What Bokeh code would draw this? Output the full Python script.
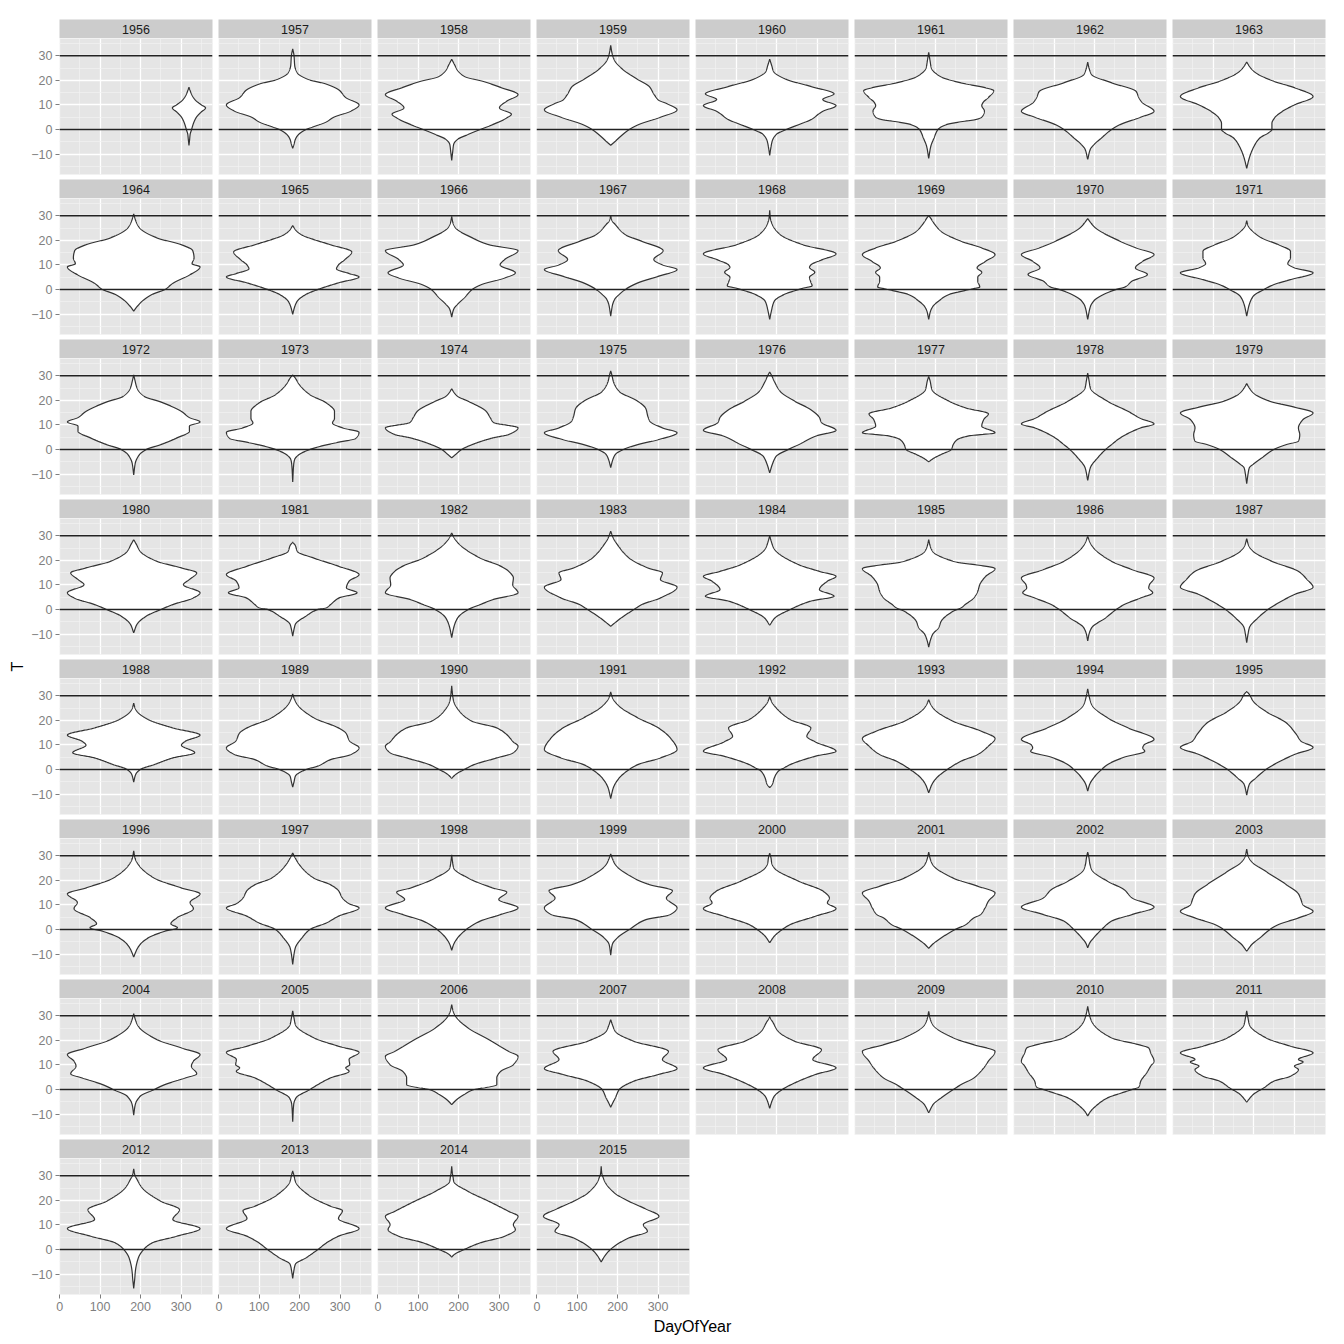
import numpy as np
from bokeh.plotting import figure
from bokeh.layouts import row, column
from bokeh.models import Range1d, FixedTicker, Span
from bokeh.core.properties import value
from bokeh.embed import file_html
from bokeh.resources import INLINE

# ---------------- data ----------------
YEARS = list(range(1956, 2016))
FIRST_DAY = [274] + [1] * 59
LAST_DAY = [365] * 59 + [318]
HLINES = [0, 30]
X_TICKS = [0, 100, 200, 300]
X_MINOR = [50, 150, 250, 350]
Y_TICKS = [-10, 0, 10, 20, 30]
Y_MINOR = [-15, -5, 5, 15, 25, 35]

# temperature knots (descending) and relative violin half-widths (1 = widest)
T_KNOTS = [
    [17.2,16,14,12,10,8.8,7,5,3,1,0,-2,-4,-6.5],
    [32.8,30,26,23,20.5,18.5,16,13,10,7.5,5,3,1,0,-2,-4,-6,-7.7],
    [28.6,26.5,24,21.5,19.5,17,14.2,11.5,8.8,6.2,4.7,2,0,-2,-4,-6,-9,-12.6],
    [34.2,31,28,24.5,20.5,17.5,14,12,10.5,8,5,2,0,-3,-5,-6.4],
    [28.6,26,23.5,20.5,17.5,14.5,12.2,9.7,7.4,4,2,0,-2,-4.5,-7,-10.5],
    [31.4,28,25,21.5,19,17,15.8,13,11,9.7,7.5,5,4,3,2,0,-3.5,-7,-11.8],
    [27.4,25,22.3,19,15.5,13,11,7.4,5,2,0,-3.4,-6,-8,-12.2],
    [27.4,25,23,19.6,17,13.4,10,7.4,4.7,2.5,0,-1.5,-3.4,-7.4,-11.5,-15.8],
    [30.7,28,25,21,18.2,15.8,12.8,10.5,9.2,6,2.7,0,-2,-4.7,-7,-8.8],
    [26,24,22,20.3,18.2,15.3,12,10,8.4,6.5,5.1,2.7,0,-2,-4.7,-7,-10.1],
    [29.7,27,25,21,18.2,15.8,12.2,10,6.8,4.7,2,0,-3.4,-6,-8,-11.2],
    [30,28,26.4,22.3,19.6,15.8,12.2,10,8.1,5.4,2.7,0,-2,-4,-6,-10.8],
    [32.2,29,26.4,22.3,18.2,14.5,12,10,9,7,5,3,1.5,0.5,0,-2,-4.7,-8.8,-12.2],
    [30.1,29,27.7,23.6,19.6,16.9,14.2,11.5,8.8,7,5,3.4,1,0.2,-1,-2,-4.7,-7,-9,-12.2],
    [28.8,27,25,19.6,16.9,14.2,11.5,8.8,6.1,3.4,1,0,-2,-4.7,-7,-12.2],
    [28,26,24.5,20.9,18.2,15.5,13,10.5,8.8,6.8,4,2,0,-2.7,-6,-10.8],
    [30.4,28,25,21.6,19.3,15.5,13,11.2,9.5,7.4,4.7,2,0,-2,-5.4,-10.4],
    [30.4,29,26.4,22.3,18.9,15.5,12.6,10.8,8.8,7,4.5,3,1.5,0,-2,-4,-6,-13.2],
    [24.7,23,21.6,19.6,15.5,13,11,8.8,6.1,4.7,2,0,-2,-3.4],
    [32,30,27.7,23.6,19.6,16.6,13.5,11.5,8.8,6.8,4,2,0,-2,-4.7,-7.4],
    [31.5,30,27.7,23.6,19.6,16.2,13,11,7.8,5.4,2,0,-2.7,-6,-9.5],
    [29.7,28,24.3,19.6,16.9,14.5,12.2,9.5,6.8,5.5,4,2,0,-2,-3.5,-5],
    [31.1,28,25,19.6,15.5,12.6,10.4,8.8,4.7,2,0,-3.4,-7.4,-12.6],
    [26.8,25,23,19.6,17.2,14.9,12.2,8.8,6,3.4,2,0,-3.4,-6,-7.4,-10,-13.9],
    [28.4,26.5,23.6,19.6,16.9,14.9,12.2,10.1,6.8,4.7,2,0,-2.7,-6,-9.5],
    [27.4,26,23.6,20.9,17.6,14.2,11.5,8.8,6.8,4.7,2,0.7,0,-2.7,-6,-8,-10.8],
    [31.1,29,26.4,20.9,17.6,15.5,12.8,10.1,6.8,4,2,0,-3.4,-7.4,-11.5],
    [31.8,29,26.4,20.9,16.9,14.9,12.2,9.1,4.7,2,0,-3.4,-6.8],
    [30,28,25,23.6,18.2,15.5,13.5,11.5,8.1,5.4,3.4,0,-3.4,-6.4],
    [28.4,26,23.6,19.6,16.6,13.5,10.1,7.4,4.7,2,0.7,-0.7,-4.7,-7.4,-10.1,-13,-15.3],
    [29.7,27,25,19.6,16.2,12.8,10,8.8,6.8,4.7,2,0,-3.4,-7.4,-10,-12.8],
    [28.8,26,23.6,19.6,15.5,12.2,9.1,6.1,2.7,0,-3.4,-7.4,-10,-13.5],
    [27,25,23.6,20.3,16.9,14,11.5,9.9,6.8,4.7,2,0,-2,-5.1],
    [30.7,29,26.4,21,16.9,14.9,11.5,8.8,6.1,4,1.4,0,-2.7,-5,-7.2],
    [34,31,29,27.7,23.6,19.6,16.9,14.2,11.2,9.5,6.8,4.7,2,0,-2,-3.6],
    [31.5,29,25.7,21,16.9,12.8,8.1,4.7,2,0,-3.4,-7.4,-11.8],
    [29.7,27.5,25,20.3,16.9,13.5,11.2,7.4,5.4,2,0.7,-0.7,-3.4,-6,-7.4],
    [28.4,26.5,24.3,19.6,15.5,12.6,9.5,6.1,3.4,0,-3.4,-6,-9.5],
    [32.8,30,26.4,21,16.9,12.2,10,8.8,7.4,5,2,0,-3.4,-6,-8.8],
    [31.8,30.5,27.7,23.6,18.9,14.2,11.5,9,6.1,2,0,-3.4,-6,-10.4],
    [32,29,26.4,20.9,16.9,14.5,11,8.5,4.7,2.3,0.7,-0.7,-3.4,-6,-8,-11.2],
    [31.1,29,26.4,20.9,18.2,15.8,12.8,10.5,8.8,5.4,2.7,0,-3.4,-7.4,-10,-14.2],
    [30.4,28,25,20.9,16.9,15.2,12.2,8.8,6.1,3.4,0,-3.4,-6,-8.5],
    [30.7,28.5,26.4,20.9,18.2,15.8,12.8,8.8,6.1,4,0,-3.4,-6,-10.4],
    [31.1,29,27,25,19.6,15.5,12.8,10.8,8.5,5.4,2,0,-2.7,-5.4],
    [31.5,29,26.4,20.9,17.6,14.9,11.5,8.8,6,4.7,2,0,-3.4,-6,-7.7],
    [31.5,29,27,24.3,19.6,16.2,12.8,9.1,6.1,3.4,0,-3.4,-5.5,-7.4],
    [32.7,30,27.7,23.6,18.2,14.5,12.8,10,7.4,4.7,2,0,-3.4,-6,-8.8],
    [30.8,28,25.7,20.3,16.9,14.2,11.5,9.5,6.4,4.7,2,0,-2.7,-6,-10.4],
    [32,29,26.4,21,17.6,15.1,12.2,10.1,8.8,7.4,4.7,2,0,-3.4,-6,-13.1],
    [34.5,32,29.7,25,20.3,15.5,13.5,10.1,7.4,4.7,2,0.7,0,-2,-4,-6.1],
    [28.4,26,23.6,19.6,15.5,12.2,8.5,6.1,3.4,0,-3.4,-5.5,-7.2],
    [29.7,28.5,27.7,23.6,19.6,16.2,12.2,8.8,6.1,2.7,0,-2.7,-5,-7.7],
    [31.8,29,26.4,21,18.2,15.5,11.5,8.8,4.7,2,0,-3.4,-6,-9.5],
    [33.8,31,27.7,21,18,16.9,14.9,11.5,9.5,6.8,3.4,1,0,-1.5,-3.4,-6.8,-9,-10.8],
    [32,29,26.4,21,17.6,14.9,12.2,11.2,9.5,8.1,5.4,3.4,0.7,-2,-5.1],
    [32.8,30,29,25,19.6,16.2,12.2,8.5,5.4,2.7,0,-3.4,-8.8,-12,-15.8],
    [32,30,27.7,22.3,17.6,15.8,12.6,8.5,5.4,2.7,0,-3.4,-6,-9,-11.8],
    [33.8,31,29.5,27.7,23.6,19.6,15.5,13.5,10.1,8.1,5.4,2.7,0,-2,-3.1],
    [33.8,31,29.5,27.7,23,19.6,16.6,13.5,10.1,7.4,4.7,2,0,-2.7,-5.1],
]
W_KNOTS = [
    [0,0.06,0.18,0.38,0.75,1.0,0.72,0.45,0.3,0.2,0.16,0.07,0.04,0],
    [0,0.02,0.03,0.07,0.22,0.5,0.7,0.8,1.0,0.88,0.62,0.5,0.3,0.2,0.09,0.04,0.02,0],
    [0,0.04,0.09,0.2,0.48,0.75,1.0,0.83,0.72,0.9,0.83,0.62,0.43,0.25,0.09,0.03,0.015,0],
    [0,0.02,0.06,0.18,0.4,0.58,0.66,0.72,0.85,1.0,0.75,0.42,0.28,0.14,0.06,0],
    [0,0.03,0.06,0.24,0.62,0.97,0.8,1.0,0.8,0.62,0.44,0.25,0.1,0.04,0.02,0],
    [0,0.02,0.04,0.18,0.48,0.85,0.98,0.9,0.82,0.8,0.84,0.8,0.7,0.45,0.27,0.14,0.08,0.03,0],
    [0,0.02,0.06,0.36,0.73,0.77,0.82,1.0,0.8,0.49,0.36,0.21,0.1,0.04,0],
    [0,0.06,0.14,0.41,0.72,1.0,0.72,0.54,0.42,0.38,0.38,0.32,0.2,0.1,0.04,0],
    [0,0.03,0.09,0.35,0.72,0.89,0.91,0.88,1.0,0.85,0.6,0.47,0.28,0.13,0.05,0],
    [0,0.05,0.15,0.32,0.57,0.89,0.78,0.69,0.66,0.85,1.0,0.69,0.38,0.2,0.07,0.03,0],
    [0,0.02,0.06,0.31,0.56,1.0,0.8,0.73,0.96,0.8,0.45,0.31,0.19,0.09,0.03,0],
    [0,0.02,0.07,0.22,0.47,0.79,0.65,0.78,1.0,0.72,0.41,0.22,0.13,0.06,0.03,0],
    [0,0.01,0.04,0.16,0.5,1.0,0.78,0.62,0.6,0.68,0.6,0.62,0.64,0.5,0.44,0.22,0.07,0.025,0],
    [0,0.03,0.06,0.19,0.49,0.8,1.0,0.86,0.73,0.8,0.74,0.74,0.77,0.65,0.45,0.31,0.15,0.06,0.025,0],
    [0,0.05,0.12,0.49,0.73,1.0,0.83,0.72,0.9,0.67,0.56,0.43,0.24,0.09,0.04,0],
    [0,0.02,0.06,0.23,0.48,0.66,0.66,0.62,0.72,1.0,0.66,0.41,0.26,0.1,0.04,0],
    [0,0.02,0.05,0.16,0.41,0.72,0.84,1.0,0.84,0.84,0.65,0.41,0.19,0.09,0.025,0],
    [0,0.04,0.1,0.26,0.51,0.63,0.63,0.6,0.75,1.0,0.95,0.7,0.45,0.26,0.1,0.03,0.015,0],
    [0,0.04,0.09,0.25,0.52,0.58,0.63,1.0,0.86,0.62,0.31,0.15,0.06,0],
    [0,0.02,0.04,0.13,0.41,0.53,0.56,0.59,0.78,1.0,0.72,0.41,0.19,0.07,0.025,0],
    [0,0.03,0.07,0.16,0.38,0.62,0.75,0.78,1.0,0.69,0.44,0.28,0.1,0.04,0],
    [0,0.02,0.05,0.31,0.56,0.9,0.83,0.8,1.0,0.6,0.43,0.37,0.34,0.19,0.08,0],
    [0,0.02,0.04,0.3,0.61,0.8,1.0,0.8,0.49,0.36,0.27,0.15,0.04,0],
    [0,0.04,0.1,0.35,0.72,1.0,0.85,0.78,0.8,0.78,0.6,0.41,0.23,0.1,0.04,0.02,0],
    [0,0.04,0.1,0.35,0.72,0.95,0.84,0.75,1.0,0.9,0.59,0.41,0.19,0.05,0],
    [0,0.04,0.07,0.32,0.69,1.0,0.85,0.81,0.97,0.7,0.57,0.51,0.38,0.2,0.04,0.02,0],
    [0,0.04,0.12,0.43,0.74,0.86,0.93,0.92,1.0,0.62,0.43,0.25,0.09,0.03,0],
    [0,0.04,0.1,0.28,0.56,0.78,0.75,1.0,0.75,0.47,0.35,0.16,0],
    [0,0.02,0.06,0.1,0.44,0.75,1.0,0.87,0.75,0.97,0.62,0.31,0.08,0],
    [0,0.02,0.06,0.37,1.0,0.86,0.77,0.74,0.68,0.55,0.49,0.37,0.19,0.15,0.06,0.02,0],
    [0,0.04,0.09,0.36,0.67,1.0,0.93,0.92,0.98,0.8,0.55,0.43,0.27,0.06,0.02,0],
    [0,0.03,0.1,0.38,0.78,0.91,1.0,0.72,0.48,0.32,0.17,0.04,0.02,0],
    [0,0.02,0.05,0.22,0.59,1.0,0.78,0.72,0.92,0.59,0.31,0.1,0.03,0],
    [0,0.02,0.07,0.32,0.69,0.8,0.86,1.0,0.88,0.57,0.38,0.2,0.04,0.02,0],
    [0,0.01,0.02,0.03,0.12,0.31,0.68,0.83,0.93,1.0,0.93,0.68,0.34,0.19,0.06,0],
    [0,0.03,0.13,0.41,0.72,0.9,1.0,0.75,0.41,0.28,0.13,0.04,0],
    [0,0.03,0.1,0.31,0.62,0.56,0.69,1.0,0.69,0.31,0.22,0.13,0.07,0.04,0],
    [0,0.03,0.09,0.37,0.8,1.0,0.9,0.74,0.49,0.28,0.12,0.05,0],
    [0,0.02,0.06,0.3,0.61,1.0,0.85,0.83,0.86,0.55,0.3,0.21,0.09,0.03,0],
    [0,0.04,0.1,0.29,0.6,0.75,0.82,1.0,0.72,0.41,0.29,0.14,0.04,0],
    [0,0.02,0.07,0.31,0.72,1.0,0.85,0.9,0.65,0.56,0.66,0.47,0.22,0.1,0.05,0],
    [0,0.04,0.1,0.32,0.57,0.69,0.75,0.85,1.0,0.69,0.51,0.26,0.14,0.04,0.02,0],
    [0,0.01,0.03,0.25,0.62,0.83,0.71,1.0,0.74,0.43,0.22,0.09,0.03,0],
    [0,0.03,0.07,0.35,0.59,0.93,0.84,1.0,0.9,0.53,0.28,0.1,0.025,0],
    [0,0.02,0.03,0.07,0.44,0.81,0.9,0.87,1.0,0.69,0.31,0.19,0.07,0],
    [0,0.02,0.06,0.37,0.74,1.0,0.9,0.85,0.78,0.68,0.56,0.4,0.19,0.06,0],
    [0,0.02,0.03,0.06,0.3,0.55,0.67,1.0,0.67,0.36,0.21,0.09,0.03,0],
    [0,0.02,0.07,0.29,0.6,0.78,0.81,0.85,1.0,0.78,0.48,0.35,0.2,0.08,0],
    [0,0.03,0.07,0.35,0.72,1.0,0.9,0.87,0.95,0.78,0.47,0.31,0.1,0.025,0],
    [0,0.02,0.04,0.32,0.69,1.0,0.85,0.86,0.8,0.85,0.57,0.38,0.26,0.05,0.015,0],
    [0,0.02,0.06,0.25,0.56,0.86,1.0,0.93,0.74,0.68,0.68,0.5,0.34,0.19,0.08,0],
    [0,0.03,0.07,0.35,0.87,0.78,1.0,0.72,0.35,0.13,0.07,0.03,0],
    [0,0.02,0.04,0.13,0.38,0.78,0.65,1.0,0.69,0.38,0.19,0.07,0.03,0],
    [0,0.02,0.06,0.37,0.68,1.0,0.9,0.83,0.68,0.49,0.37,0.19,0.07,0],
    [0,0.02,0.06,0.36,0.8,0.92,0.95,1.0,0.95,0.89,0.8,0.77,0.67,0.5,0.3,0.12,0.04,0],
    [0,0.02,0.04,0.29,0.66,1.0,0.78,0.85,0.72,0.78,0.66,0.41,0.26,0.1,0],
    [0,0.02,0.04,0.13,0.41,0.69,0.59,1.0,0.65,0.28,0.15,0.07,0.025,0.015,0],
    [0,0.02,0.04,0.23,0.57,0.75,0.69,1.0,0.69,0.51,0.38,0.2,0.04,0.015,0],
    [0,0.01,0.02,0.03,0.25,0.56,0.86,1.0,0.93,0.96,0.8,0.43,0.19,0.04,0],
    [0,0.01,0.03,0.06,0.23,0.48,0.76,1.0,0.73,0.8,0.48,0.27,0.16,0.06,0],
]
assert len(T_KNOTS) == len(W_KNOTS) == len(YEARS)
for _t, _w in zip(T_KNOTS, W_KNOTS):
    assert len(_t) == len(_w)

# ---------------- helpers ----------------
def pchip(x, y, xn):
    x = np.asarray(x, float); y = np.asarray(y, float)
    h = np.diff(x); d = np.diff(y) / h
    n = len(x)
    m = np.zeros(n)
    for k in range(1, n - 1):
        if d[k - 1] * d[k] > 0:
            w1 = 2 * h[k] + h[k - 1]; w2 = h[k] + 2 * h[k - 1]
            m[k] = (w1 + w2) / (w1 / d[k - 1] + w2 / d[k])
    m[0] = d[0]; m[-1] = d[-1]
    idx = np.clip(np.searchsorted(x, xn) - 1, 0, n - 2)
    t = (xn - x[idx]) / h[idx]
    h00 = 2 * t**3 - 3 * t**2 + 1
    h10 = t**3 - 2 * t**2 + t
    h01 = -2 * t**3 + 3 * t**2
    h11 = t**3 - t**2
    return h00 * y[idx] + h10 * h[idx] * m[idx] + h01 * y[idx + 1] + h11 * h[idx] * m[idx + 1]

def violin_outline(i):
    t = np.asarray(T_KNOTS[i], float)[::-1]
    w = np.asarray(W_KNOTS[i], float)[::-1]
    center = (FIRST_DAY[i] + LAST_DAY[i]) / 2.0
    half = 0.45 * (LAST_DAY[i] - FIRST_DAY[i])
    tt = np.linspace(t[0], t[-1], 400)
    ww = np.clip(pchip(t, w, tt), 0, None)
    xs = np.concatenate([center + ww * half, (center - ww * half)[::-1]])
    ys = np.concatenate([tt, tt[::-1]])
    return xs, ys

# shared scales (ggplot-like 5% expansion)
_xlo = min((f + l) / 2 - 0.45 * (l - f) for f, l in zip(FIRST_DAY, LAST_DAY))
_xhi = max((f + l) / 2 + 0.45 * (l - f) for f, l in zip(FIRST_DAY, LAST_DAY))
_ylo = min(min(t) for t in T_KNOTS)
_yhi = max(max(t) for t in T_KNOTS)
_xp = 0.05 * (_xhi - _xlo); _yp = 0.05 * (_yhi - _ylo)
X_RANGE = (_xlo - _xp, _xhi + _xp)
Y_RANGE = (_ylo - _yp, _yhi + _yp)

# ---------------- layout constants ----------------
NCOL = 8
NROW = (len(YEARS) + NCOL - 1) // NCOL
FW, FH = 153, 136
STRIP_H = 19
SIDE = 3
LEFT_W = 27
FIRST_LEFT = 32
TOP = 19
ROW_GAP = 5
BOTTOM_AXIS = 22
XLABEL_H = 20
FONT = "Liberation Sans"

def make_panel(i):
    r, c = divmod(i, NCOL)
    left_axis = c == 0
    bottom_axis = r == NROW - 1
    p = figure(frame_width=FW, frame_height=FH,
               x_range=Range1d(*X_RANGE), y_range=Range1d(*Y_RANGE),
               x_axis_location="below" if bottom_axis else None,
               y_axis_location="left" if left_axis else None,
               toolbar_location=None, output_backend="svg",
               min_border_left=FIRST_LEFT if left_axis else SIDE,
               min_border_right=SIDE, min_border_top=0,
               min_border_bottom=BOTTOM_AXIS if bottom_axis else ROW_GAP,
               background_fill_color="#e5e5e5", border_fill_color="white",
               outline_line_color=None)
    p.xgrid.ticker = FixedTicker(ticks=X_TICKS, minor_ticks=X_MINOR)
    p.ygrid.ticker = FixedTicker(ticks=Y_TICKS, minor_ticks=Y_MINOR)
    for g in (p.xgrid, p.ygrid):
        g.grid_line_color = "white"
        g.grid_line_width = 1.3
        g.minor_grid_line_color = "#f2f2f2"
        g.minor_grid_line_width = 0.7
    for ax, ticks in ((p.xaxis, X_TICKS), (p.yaxis, Y_TICKS)):
        ax.ticker = FixedTicker(ticks=ticks)
        ax.axis_line_color = None
        ax.major_tick_line_color = "#7f7f7f"
        ax.major_tick_out = 4
        ax.major_tick_in = 0
        ax.minor_tick_line_color = None
        ax.major_label_text_font = FONT
        ax.major_label_text_font_size = "12.5px"
        ax.major_label_text_color = "#7f7f7f"
    p.xaxis.major_label_standoff = 3
    p.yaxis.major_label_standoff = 3
    xs, ys = violin_outline(i)
    p.patch(x=xs, y=ys, fill_color="white", line_color="#333333", line_width=1.2)
    for h in HLINES:
        p.add_layout(Span(location=h, dimension="width", line_color="#222222", line_width=1.6))
    return p

def make_strip(i):
    r, c = divmod(i, NCOL)
    p = figure(frame_width=FW, frame_height=STRIP_H,
               x_range=Range1d(0, 1), y_range=Range1d(0, 1),
               x_axis_location=None, y_axis_location=None,
               toolbar_location=None, output_backend="svg",
               min_border_left=FIRST_LEFT if c == 0 else SIDE,
               min_border_right=SIDE,
               min_border_top=TOP if r == 0 else 0, min_border_bottom=0,
               background_fill_color="#cccccc", border_fill_color="white",
               outline_line_color=None)
    p.xgrid.visible = False
    p.ygrid.visible = False
    p.text(x=[0.5], y=[0.5], text=[str(YEARS[i])], text_align="center",
           text_baseline="middle", text_font=value(FONT),
           text_font_size="12.5px", text_color="#1a1a1a")
    return p

rows = []
for r in range(NROW):
    idx = list(range(r * NCOL, min((r + 1) * NCOL, len(YEARS))))
    rows.append(row(*[make_strip(i) for i in idx]))
    rows.append(row(*[make_panel(i) for i in idx]))

grid_w = FIRST_LEFT + FW + SIDE + (NCOL - 1) * (2 * SIDE + FW)
panel_top = TOP + STRIP_H
panel_bottom = TOP + NROW * (STRIP_H + FH) + (NROW - 1) * ROW_GAP
total_h = panel_bottom + BOTTOM_AXIS + XLABEL_H
panel_left = FIRST_LEFT
panel_right = grid_w - SIDE

xlab = figure(frame_width=grid_w, frame_height=XLABEL_H,
              x_range=Range1d(0, grid_w), y_range=Range1d(0, XLABEL_H),
              x_axis_location=None, y_axis_location=None,
              toolbar_location=None, output_backend="svg",
              min_border=0, outline_line_color=None,
              background_fill_color="white", border_fill_color="white")
xlab.xgrid.visible = False
xlab.ygrid.visible = False
xlab.text(x=[(panel_left + panel_right) / 2], y=[XLABEL_H / 2], text=["DayOfYear"],
          text_align="center", text_baseline="middle", text_font=value(FONT),
          text_font_size="16px", text_color="black")
rows.append(xlab)

ylab = figure(frame_width=LEFT_W, frame_height=total_h,
              x_range=Range1d(0, LEFT_W), y_range=Range1d(total_h, 0),
              x_axis_location=None, y_axis_location=None,
              toolbar_location=None, output_backend="svg",
              min_border=0, outline_line_color=None,
              background_fill_color="white", border_fill_color="white")
ylab.xgrid.visible = False
ylab.ygrid.visible = False
ylab.text(x=[LEFT_W / 2 + 3.5], y=[(panel_top + panel_bottom) / 2], text=["T"], angle=np.pi / 2,
          text_align="center", text_baseline="middle", text_font=value(FONT),
          text_font_size="16px", text_color="black")

layout = row(ylab, column(*rows))

with open("out.html", "w") as f:
    f.write(file_html(layout, INLINE))
